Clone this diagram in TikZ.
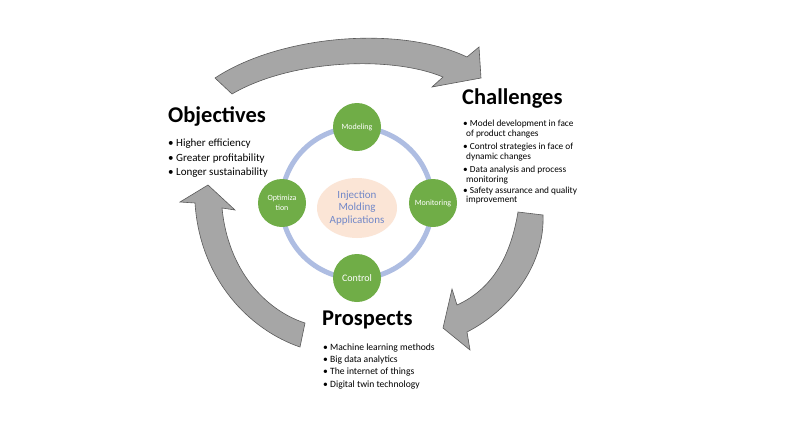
\documentclass[tikz,border=0pt]{standalone}
\usepackage{fontspec}
\setmainfont{Carlito}
\usetikzlibrary{shapes.geometric}
\definecolor{grn}{HTML}{70AD47}
\definecolor{ringc}{HTML}{AEBDE2}
\definecolor{peach}{HTML}{FBE5D6}
\definecolor{ctxt}{HTML}{7288C8}
\definecolor{arrfill}{HTML}{A6A6A6}
\definecolor{arrline}{HTML}{5A5A5A}
\tikzset{
  bigarrow/.style={fill=arrfill, draw=arrline, line width=0.6pt, line join=miter},
  gcirc/.style={circle, fill=grn, minimum size=48pt, inner sep=0pt, text=white, align=center, font=\fontsize{8}{9.5}\selectfont},
  heading/.style={anchor=base west, inner sep=0pt, font=\fontsize{22.5}{26}\selectfont\bfseries},
  objline/.style={anchor=base west, inner sep=0pt, font=\fontsize{11}{12}\selectfont},
  chline/.style={anchor=base west, inner sep=0pt, font=\fontsize{9.3}{10}\selectfont},
  prline/.style={anchor=base west, inner sep=0pt, font=\fontsize{9.6}{10}\selectfont},
}
\begin{document}
\begin{tikzpicture}[x=1pt,y=-1pt]
\useasboundingbox (0,0) rectangle (786,442);
\fill[white] (0,0) rectangle (786,442);

% big curved arrows
\draw[bigarrow] (215,78) .. controls (280,35) and (400,25) .. (467,57)
  -- (479,47) -- (481,78) -- (432,87) -- (443,77)
  .. controls (390,55) and (290,60) .. (232,94) -- cycle;
\draw[bigarrow] (543,215) .. controls (545,265) and (510,310) .. (467,332)
  -- (470,350) -- (443,328) -- (452,289) -- (457,305)
  .. controls (490,290) and (510,260) .. (518,212) -- cycle;
\draw[bigarrow] (300,347) .. controls (250,330) and (200,280) .. (195,203)
  -- (180,202) -- (208,185) -- (235,210) -- (222,208)
  .. controls (228,270) and (265,310) .. (305,323) -- cycle;

% ring
\node[circle, draw=ringc, line width=5pt, minimum size=151pt, inner sep=0pt] (ring) at (357,203) {};
\node[ellipse, fill=peach, minimum width=80pt, minimum height=60pt, inner sep=0pt, text=ctxt, align=center, font=\fontsize{11}{12.5}\selectfont] (center) at (357,208) {Injection\\Molding\\Applications};

\node[gcirc] (mod) at (357,127) {Modeling};
\node[gcirc] (mon) at (433,203) {Monitoring};
\node[gcirc, font=\fontsize{10}{11}\selectfont] (ctl) at (357,278) {Control};
\node[gcirc] (opt) at (282,203) {Optimiza\\tion};

% Objectives
\node[heading] (objh) at (168,122) {Objectives};
\node[objline] (o1) at (168,146.5) {• Higher efficiency};
\node[objline] (o2) at (168,161) {• Greater profitability};
\node[objline] (o3) at (168,175.5) {• Longer sustainability};

% Challenges
\node[heading] (chh) at (462,104) {Challenges};
\node[chline] (c1) at (463,126) {• Model development in face};
\node[chline] (c1b) at (466,136) {of product changes};
\node[chline] (c2) at (463,149) {• Control strategies in face of};
\node[chline] (c2b) at (466,159) {dynamic changes};
\node[chline] (c3) at (463,172) {• Data analysis and process};
\node[chline] (c3b) at (466,182) {monitoring};
\node[chline] (c4) at (463,193) {• Safety assurance and quality};
\node[chline] (c4b) at (466,202) {improvement};

% Prospects
\node[heading] (prh) at (322,325) {Prospects};
\node[prline] (p1) at (323,350) {• Machine learning methods};
\node[prline] (p2) at (323,362) {• Big data analytics};
\node[prline] (p3) at (323,374.5) {• The internet of things};
\node[prline] (p4) at (323,387) {• Digital twin technology};
\end{tikzpicture}
\end{document}
